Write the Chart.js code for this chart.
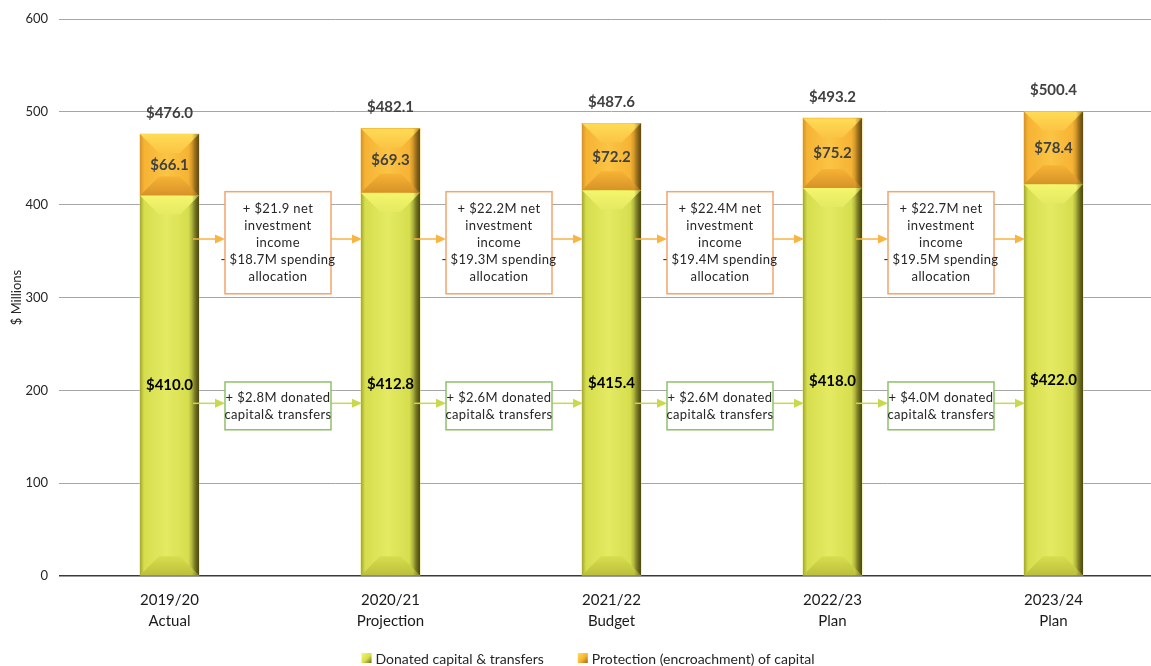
<!DOCTYPE html>
<html>
<head>
<meta charset="utf-8">
<title>Endowment capital</title>
<script src="https://cdn.jsdelivr.net/npm/chart.js@4.4.1/dist/chart.umd.min.js"></script>
<style>
  html, body { margin: 0; padding: 0; background: #fff; overflow: hidden; }
  #wrap { width: 1170px; height: 666px; }
</style>
</head>
<body>
<div id="wrap"><canvas id="capital-chart" width="1170" height="666"></canvas></div>
<script>
// Werte aus der Vorlage
const years = [["2019/20", "Actual"], ["2020/21", "Projection"], ["2021/22", "Budget"], ["2022/23", "Plan"], ["2023/24", "Plan"]];
const donatedCapital = [410.0, 412.8, 415.4, 418.0, 422.0];
const protectionOfCapital = [66.1, 69.3, 72.2, 75.2, 78.4];
const stackTotals = [476.0, 482.1, 487.6, 493.2, 500.4];
const seriesNames = ["Donated capital & transfers", "Protection (encroachment) of capital"];
const yTickMax = 600;
const yTickStep = 100;

// Texte der Kaesten zwischen den Balken
const incomeNotes = [
    ["+ $21.9 net", "investment", "income", "- $18.7M spending", "allocation"],
    ["+ $22.2M net", "investment", "income", "- $19.3M spending", "allocation"],
    ["+ $22.4M net", "investment", "income", "- $19.4M spending", "allocation"],
    ["+ $22.7M net", "investment", "income", "- $19.5M spending", "allocation"]
];
const donatedNotes = [
    ["+ $2.8M donated", "capital& transfers"],
    ["+ $2.6M donated", "capital& transfers"],
    ["+ $2.6M donated", "capital& transfers"],
    ["+ $4.0M donated", "capital& transfers"]
];

const FONT = "Lato, 'Noto Sans', sans-serif";
const GREEN = { base: "#d6de4e", light: "#e4ea62", top: "#f4f56c", bottom: "#bcc03c", edgeL: "#a3a82e", edgeR: "#5f5f18" };
const ORANGE = { base: "#f6b334", light: "#fbc444", top: "#ffdc55", bottom: "#d79228", edgeL: "#d3942a", edgeR: "#8f6218" };

// Balken mit Abschraegung nachzeichnen (Excel-Bevel)
const bevelPlugin = {
    id: "bevel",
    afterDatasetsDraw(chart) {
        const ctx = chart.ctx;
        chart.data.datasets.forEach((ds, di) => {
            const pal = ds.palette;
            chart.getDatasetMeta(di).data.forEach(bar => {
                const p = bar.getProps(["x", "y", "base", "width"], true);
                const l = p.x - p.width / 2, r = p.x + p.width / 2;
                const top = Math.min(p.y, p.base), bot = Math.max(p.y, p.base);
                const h = bot - top;
                const d = Math.min(19, h / 3);
                ctx.save();
                ctx.beginPath();
                ctx.rect(l, top, p.width, h);
                ctx.clip();
                let g = ctx.createLinearGradient(l, 0, r, 0);
                g.addColorStop(0, pal.edgeL);
                g.addColorStop(0.07, pal.base);
                g.addColorStop(0.45, pal.light);
                g.addColorStop(0.82, pal.base);
                g.addColorStop(1, pal.edgeR);
                ctx.fillStyle = g;
                ctx.fillRect(l, top, p.width, h);
                // obere Flaeche
                ctx.beginPath();
                ctx.moveTo(l, top);
                ctx.lineTo(r, top);
                ctx.lineTo(r - d, top + d);
                ctx.lineTo(l + d, top + d);
                ctx.closePath();
                g = ctx.createLinearGradient(0, top, 0, top + d);
                g.addColorStop(0, pal.top);
                g.addColorStop(1, pal.light);
                ctx.fillStyle = g;
                ctx.fill();
                // untere Flaeche
                ctx.beginPath();
                ctx.moveTo(l, bot);
                ctx.lineTo(r, bot);
                ctx.lineTo(r - d, bot - d);
                ctx.lineTo(l + d, bot - d);
                ctx.closePath();
                g = ctx.createLinearGradient(0, bot - d, 0, bot);
                g.addColorStop(0, pal.base);
                g.addColorStop(1, pal.bottom);
                ctx.fillStyle = g;
                ctx.fill();
                // rechte Schattenkante
                g = ctx.createLinearGradient(r - 7, 0, r, 0);
                g.addColorStop(0, "rgba(60,55,10,0)");
                g.addColorStop(1, "rgba(60,55,10,0.55)");
                ctx.fillStyle = g;
                ctx.fillRect(r - 7, top, 7, h);
                ctx.restore();
            });
        });
    }
};

function drawArrow(ctx, x0, x1, y, color) {
    ctx.save();
    ctx.strokeStyle = color;
    ctx.fillStyle = color;
    ctx.lineWidth = 1.5;
    ctx.beginPath();
    ctx.moveTo(x0, y);
    ctx.lineTo(x1 - 9, y);
    ctx.stroke();
    ctx.beginPath();
    ctx.moveTo(x1, y);
    ctx.lineTo(x1 - 10, y - 4.5);
    ctx.lineTo(x1 - 10, y + 4.5);
    ctx.closePath();
    ctx.fill();
    ctx.restore();
}

// Kaesten und Pfeile zwischen den Balken
const notesPlugin = {
    id: "notes",
    afterDatasetsDraw(chart, args, opts) {
        const ctx = chart.ctx, xs = chart.scales.x, ys = chart.scales.y;
        const barW = chart.getDatasetMeta(0).data[0].width;
        opts.groups.forEach(grp => {
            grp.notes.forEach((lines, i) => {
                const x0 = xs.getPixelForValue(i), x1 = xs.getPixelForValue(i + 1);
                const cx = (x0 + x1) / 2 - 2;
                const top = ys.getPixelForValue(grp.top), bottom = ys.getPixelForValue(grp.bottom);
                const ay = ys.getPixelForValue(grp.arrowAt);
                const left = cx - grp.width / 2, right = cx + grp.width / 2;
                drawArrow(ctx, x0 + barW / 2 - 6, left, ay, grp.arrow);
                drawArrow(ctx, right, x1 - barW / 2 + 1, ay, grp.arrow);
                ctx.save();
                ctx.fillStyle = "#fff";
                ctx.fillRect(left, top, grp.width, bottom - top);
                ctx.strokeStyle = grp.border;
                ctx.lineWidth = 1.5;
                ctx.strokeRect(left, top, grp.width, bottom - top);
                ctx.fillStyle = "#262626";
                ctx.font = "13px " + FONT;
                if ("letterSpacing" in ctx) ctx.letterSpacing = "0.4px";
                ctx.textAlign = "center";
                ctx.textBaseline = "middle";
                const mid = (top + bottom) / 2;
                lines.forEach((t, k) => {
                    ctx.fillText(t, cx, mid + (k - (lines.length - 1) / 2) * 17);
                });
                ctx.restore();
            });
        });
    }
};

// Beschriftungen der Segmente und Summen
const labelPlugin = {
    id: "valueLabels",
    afterDatasetsDraw(chart) {
        const ctx = chart.ctx, ys = chart.scales.y;
        ctx.save();
        ctx.textAlign = "center";
        ctx.textBaseline = "middle";
        ctx.font = "bold 15px " + FONT;
        chart.data.datasets.forEach((ds, di) => {
            chart.getDatasetMeta(di).data.forEach((bar, i) => {
                const p = bar.getProps(["x", "y", "base"], true);
                ctx.fillStyle = ds.labelColor;
                ctx.fillText("$" + ds.data[i].toFixed(1), p.x, (p.y + p.base) / 2);
            });
        });
        ctx.fillStyle = "#404040";
        chart.getDatasetMeta(0).data.forEach((bar, i) => {
            ctx.fillText("$" + stackTotals[i].toFixed(1), bar.x, ys.getPixelForValue(stackTotals[i]) - 21);
        });
        ctx.restore();
    }
};

// Legende unten
const legendPlugin = {
    id: "bottomLegend",
    afterDraw(chart) {
        const ctx = chart.ctx;
        ctx.save();
        ctx.font = "14px " + FONT;
        ctx.textBaseline = "middle";
        const gap = 34, box = 10;
        const widths = seriesNames.map(n => box + 4 + ctx.measureText(n).width);
        let x = 588 - (widths[0] + widths[1] + gap) / 2;
        const y = 659;
        chart.data.datasets.forEach((ds, i) => {
            const g = ctx.createLinearGradient(x, y - box / 2, x + box, y + box / 2);
            g.addColorStop(0, ds.palette.top);
            g.addColorStop(0.5, ds.palette.base);
            g.addColorStop(1, ds.palette.edgeR);
            ctx.fillStyle = g;
            ctx.fillRect(x, y - box / 2 - 1, box, box);
            ctx.fillStyle = "#262626";
            ctx.fillText(seriesNames[i], x + box + 4, y);
            x += widths[i] + gap;
        });
        ctx.restore();
    }
};

new Chart(document.getElementById("capital-chart"), {
    type: "bar",
    data: {
        labels: years,
        datasets: [
            { label: seriesNames[0], data: donatedCapital, backgroundColor: GREEN.base, palette: GREEN, labelColor: "#000", barThickness: 59 },
            { label: seriesNames[1], data: protectionOfCapital, backgroundColor: ORANGE.base, palette: ORANGE, labelColor: "#404040", barThickness: 59 }
        ]
    },
    options: {
        responsive: false,
        devicePixelRatio: 1,
        animation: false,
        layout: { padding: { top: 19, right: 6, bottom: 0, left: 0 } },
        plugins: {
            legend: { display: false },
            tooltip: { enabled: false },
            notes: {
                groups: [
                    { notes: incomeNotes, top: 414, bottom: 304, arrowAt: 363, width: 106, border: "#f4a46c", arrow: "#f9b442" },
                    { notes: donatedNotes, top: 209, bottom: 157.5, arrowAt: 186, width: 106, border: "#8fc06a", arrow: "#c9d84c" }
                ]
            }
        },
        scales: {
            x: {
                stacked: true,
                grid: { display: false },
                border: { display: false },
                ticks: { color: "#1a1a1a", font: { family: FONT, size: 15, lineHeight: 1.4 }, padding: 6, maxRotation: 0 },
                afterFit(scale) { scale.height = 90; }
            },
            y: {
                stacked: true,
                min: 0,
                max: yTickMax,
                border: { display: false },
                grid: {
                    drawTicks: false,
                    color: ctx => ctx.tick.value === 0 ? "#3a3a3a" : "#a6a6a6",
                    lineWidth: ctx => ctx.tick.value === 0 ? 1.5 : 1
                },
                ticks: { stepSize: yTickStep, color: "#262626", font: { family: FONT, size: 13 }, padding: 11 },
                title: { display: true, text: "$ Millions", color: "#262626", font: { family: FONT, size: 13 }, padding: { top: 9, bottom: 0 } },
                afterFit(scale) { scale.width = 59; }
            }
        }
    },
    plugins: [bevelPlugin, notesPlugin, labelPlugin, legendPlugin]
});
</script>
</body>
</html>
